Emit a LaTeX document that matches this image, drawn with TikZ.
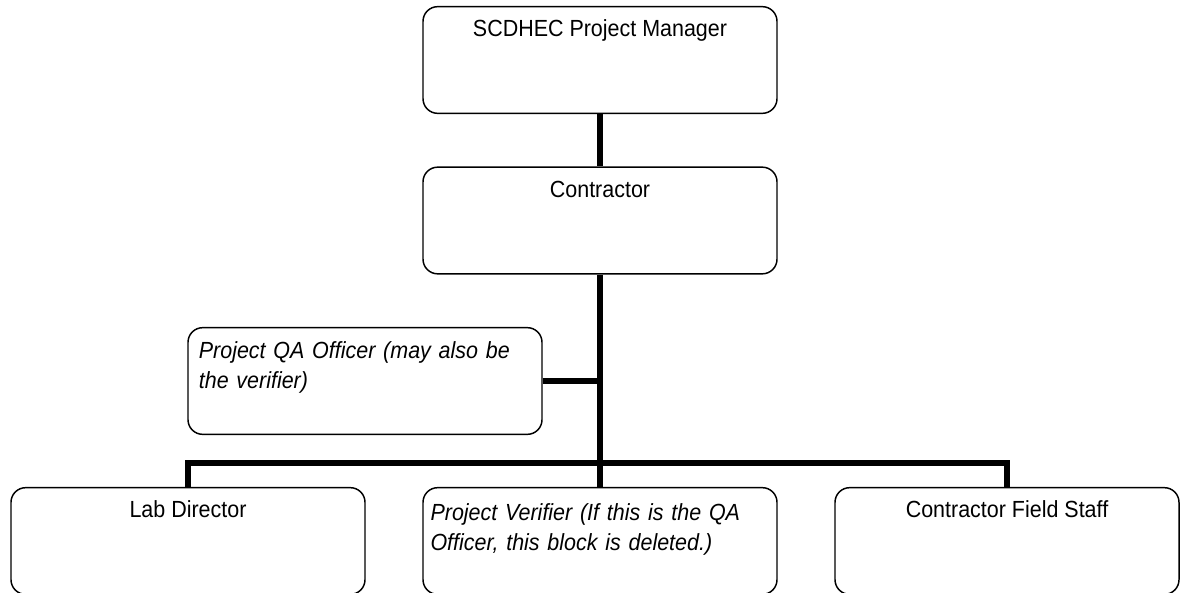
\documentclass[tikz,border=0pt]{standalone}
\usepackage{fontspec}
\newfontfamily\narrowsf{Liberation Sans}[FakeStretch=0.92]
\usepackage{tikz}
\tikzset{orgbox/.style={draw, line width=1.1pt, rounded corners=11pt, minimum width=265.5pt, minimum height=80pt} }
\tikzset{boxtext/.style={anchor=base, inner sep=0pt, font=\narrowsf\fontsize{17.5pt}{22.5pt}\selectfont} }
\tikzset{notetext/.style={anchor=base west, inner sep=0pt, text width=255pt, align=left, font=\narrowsf\itshape\fontsize{17.5pt}{22.5pt}\selectfont} }
\tikzset{link/.style={line width=5.2pt, line join=miter} }

\begin{document}
\begin{tikzpicture}[x=0.75pt,y=-0.75pt]
            \useasboundingbox (0,0) rectangle (1180,592);
            \node [orgbox] (mgr) at (600,60) {};
            \node [orgbox] (con) at (600,220.5) {};
            \node [orgbox] (qa) at (365,381) {};
            \node [orgbox] (lab) at (188,541) {};
            \node [orgbox] (ver) at (600,541) {};
            \node [orgbox, minimum width=258pt] (staff) at (1007,541) {};
            \node [boxtext] (mgrtxt) at ([yshift=-23.25pt]mgr.north) {SCDHEC Project Manager};
            \node [boxtext] (contxt) at ([yshift=-23.25pt]con.north) {Contractor};
            \node [boxtext] (labtxt) at ([yshift=-23.25pt]lab.north) {Lab Director};
            \node [boxtext] (stafftxt) at ([yshift=-23.25pt]staff.north) {Contractor Field Staff};
            \node [notetext] (qatxt) at ([xshift=8.5pt,yshift=-23.5pt]qa.north west) {Project QA Officer (may also be\\the verifier)};
            \node [notetext] (vertxt) at ([xshift=6pt,yshift=-25pt]ver.north west) {Project Verifier (If this is the QA\\Officer, this block is deleted.)};
            \coordinate (hub) at (600,463);
            \draw [link] (mgr.south) -- (con.north);
            \draw [link] (con.south) -- (hub);
            \draw [link] (qa.east) -- (qa.east -| con.south);
            \draw [link] (lab.north) |- (hub) -| (staff.north);
            \draw [link] (hub) -- (ver.north);
        \end{tikzpicture}
\end{document}
